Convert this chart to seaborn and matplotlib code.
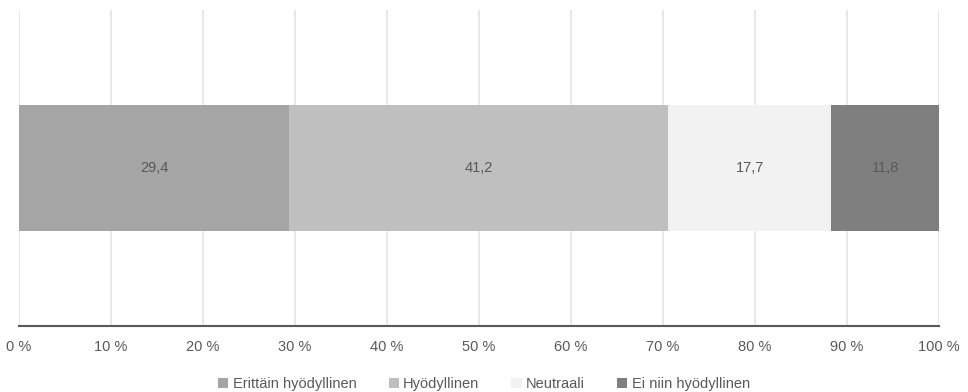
import matplotlib
matplotlib.use("Agg")
import matplotlib.pyplot as plt
import seaborn as sns
import pandas as pd
import numpy as np
from matplotlib.patches import Patch

# Survey answer shares (%)
categories = ["Erittäin hyödyllinen", "Hyödyllinen", "Neutraali", "Ei niin hyödyllinen"]
values = [29.4, 41.2, 17.7, 11.8]
colors = ["#a5a5a5", "#bfbfbf", "#f2f2f2", "#7f7f7f"]
tick_values = list(range(0, 101, 10))
tick_labels = [f"{t} %" for t in tick_values]

sns.set_theme(style="white")
plt.rcParams["font.family"] = ["Liberation Sans", "DejaVu Sans"]

fig = plt.figure(figsize=(9.68, 3.92), dpi=100)
ax = fig.add_axes([0.0196, 0.168, 0.9504, 0.806])

# Stacked bar: paint cumulative totals from the longest to the shortest
ends = np.cumsum(values)
starts = ends - np.array(values)
for i in reversed(range(len(values))):
    df = pd.DataFrame({"row": ["a"], "total": [ends[i]]})
    sns.barplot(data=df, x="total", y="row", orient="h", color=colors[i],
                saturation=1, width=0.4, ax=ax, edgecolor="none", zorder=2)

for s, v in zip(starts, values):
    ax.text(s + v / 2, 0, f"{v:.1f}".replace(".", ","), ha="center", va="center",
            fontsize=10.5, color="#595959", zorder=3)

ax.set_xlim(0, 100)
ax.set_ylim(0.5, -0.5)
ax.set_xticks(tick_values)
ax.set_xticklabels(tick_labels, fontsize=10.5, color="#595959")
ax.set_yticks([])
ax.set_xlabel("")
ax.set_ylabel("")
ax.grid(axis="x", color="#e6e6e6", linewidth=1.3, zorder=0)
ax.set_axisbelow(True)
for side in ["top", "right", "left"]:
    ax.spines[side].set_visible(False)
ax.spines["bottom"].set_color("#595959")
ax.spines["bottom"].set_linewidth(1.5)
ax.tick_params(axis="x", length=0, pad=10)

handles = [Patch(facecolor=c, edgecolor="none") for c in colors]
fig.legend(handles, categories, loc="center", bbox_to_anchor=(0.5, 0.02),
           ncol=4, frameon=False, fontsize=10.5, labelcolor="#595959",
           handlelength=0.7, handleheight=0.7, handletextpad=0.3, columnspacing=2.2)

fig.savefig("out.png", dpi=100)
